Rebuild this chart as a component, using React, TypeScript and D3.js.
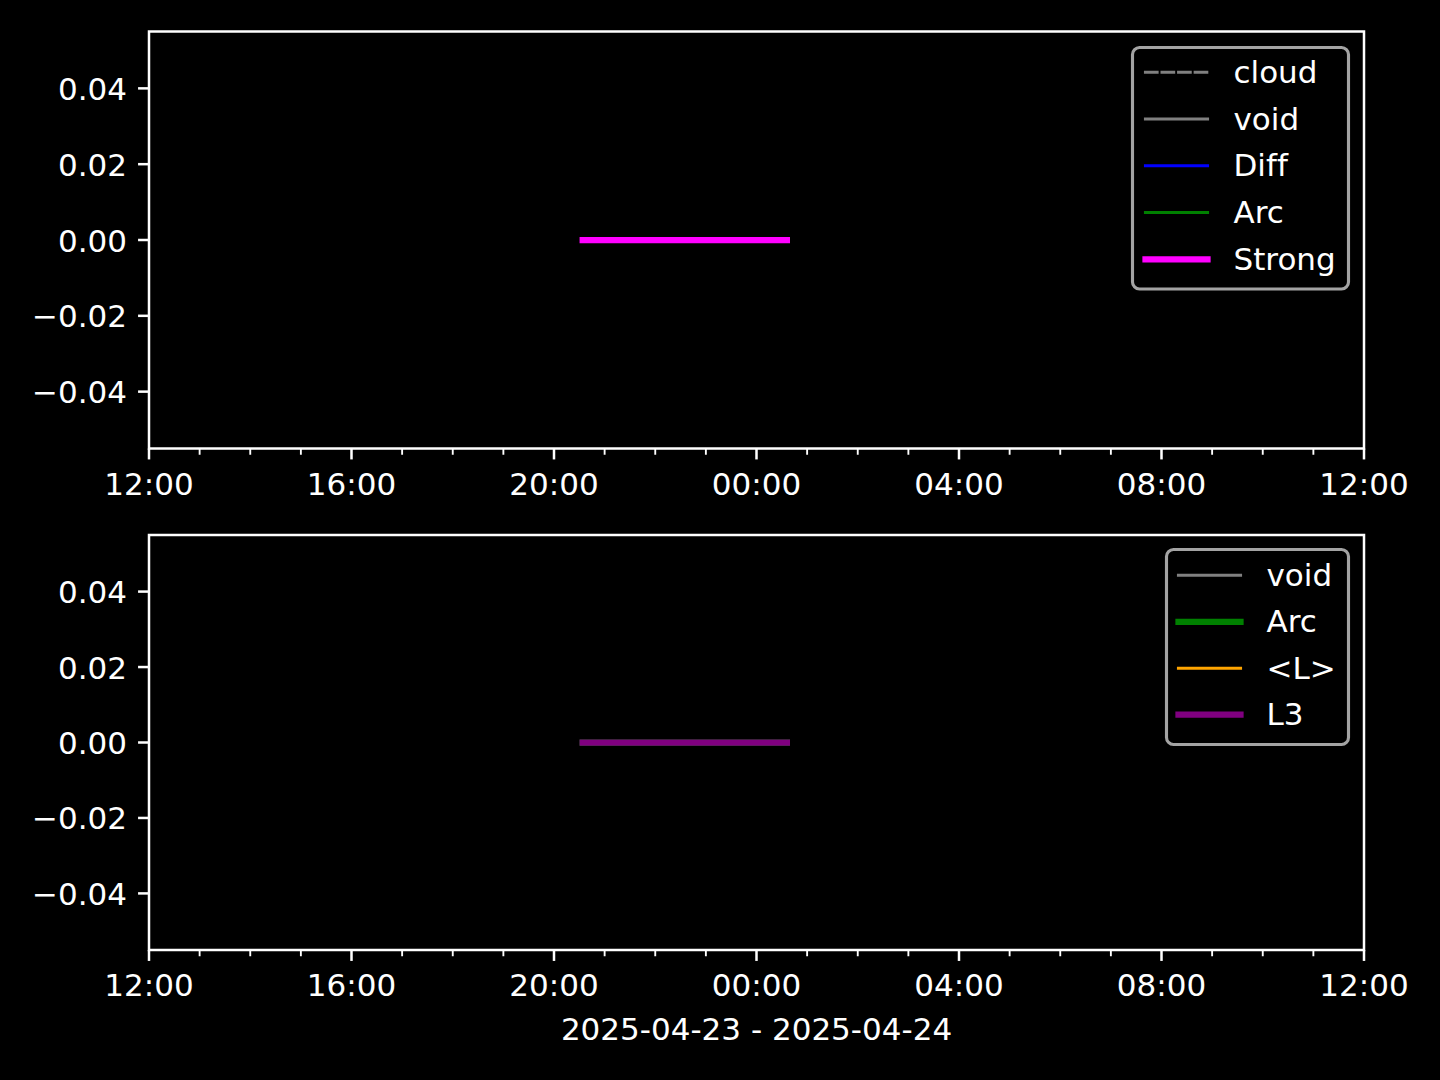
import React from 'react';
import * as d3 from 'd3';

// time window shown on both panels (UTC)
const xDomain = ['2025-04-23T12:00:00Z', '2025-04-24T12:00:00Z'];
const yDomain = [-0.055, 0.055];
const yTicks = [-0.04, -0.02, 0, 0.02, 0.04];
const xLabel = '2025-04-23 - 2025-04-24';

// sample times and values (all series are flat at zero here)
const times = ['2025-04-23T20:34:00Z', '2025-04-23T22:00:00Z', '2025-04-24T00:36:00Z'];
const cloudVals = [0, 0, 0];
const voidVals = [0, 0, 0];
const diffVals = [0, 0, 0];
const arcVals = [0, 0, 0];
const strongVals = [0, 0, 0];
const meanLVals = [0, 0, 0];
const l3Vals = [0, 0, 0];

type Series = { name: string; values: number[]; color: string; lw: number; dash?: boolean };

const topSeries: Series[] = [
  { name: 'cloud', values: cloudVals, color: '#808080', lw: 1, dash: true },
  { name: 'void', values: voidVals, color: '#808080', lw: 1 },
  { name: 'Diff', values: diffVals, color: '#0000ff', lw: 1 },
  { name: 'Arc', values: arcVals, color: '#008000', lw: 1 },
  { name: 'Strong', values: strongVals, color: '#ff00ff', lw: 2 },
];
const bottomSeries: Series[] = [
  { name: 'void', values: voidVals, color: '#808080', lw: 1 },
  { name: 'Arc', values: arcVals, color: '#008000', lw: 2 },
  { name: '<L>', values: meanLVals, color: '#ffa500', lw: 1 },
  { name: 'L3', values: l3Vals, color: '#800080', lw: 2 },
];

const W = 1440;
const H = 1080;
const PT = 3.125; // px per point
const FS = 31;
const FONT = '"DejaVu Sans", sans-serif';
const LEFT = 149;
const RIGHT = 1364;

const x = d3.scaleUtc().domain(xDomain.map(d => new Date(d))).range([LEFT, RIGHT]);
const majorTicks = x.ticks(d3.utcHour.every(4)!);
const minorTicks = x.ticks(d3.utcHour.every(1)!).filter(t => t.getUTCHours() % 4 !== 0);
const fmtX = d3.utcFormat('%H:%M');
const fmtY = d3.format('.2f');

type Legend = { x0: number; y0: number; w: number; h: number; handleX: number; textX: number; rowY: number; step: number };

const Panel: React.FC<{ top: number; bottom: number; series: Series[]; legend: Legend }> = ({ top, bottom, series, legend }) => {
  const y = d3.scaleLinear().domain(yDomain).range([bottom, top]);
  const line = d3.line<number>()
    .x((_, i) => x(new Date(times[i])))
    .y(d => y(d));
  return (
    <g>
      {series.map(s => (
        <path key={s.name} d={line(s.values) ?? ''} fill="none" stroke={s.color}
          strokeWidth={s.lw * PT} strokeLinecap="square"
          strokeDasharray={s.dash ? `${3.7 * PT} ${1.6 * PT}` : undefined} />
      ))}
      {/* spines */}
      <rect x={LEFT} y={top} width={RIGHT - LEFT} height={bottom - top} fill="none" stroke="#fff" strokeWidth={0.8 * PT} />
      {/* x ticks */}
      {majorTicks.map(t => (
        <g key={+t}>
          <line x1={x(t)} x2={x(t)} y1={bottom} y2={bottom + 3.5 * PT} stroke="#fff" strokeWidth={0.8 * PT} />
          <text x={x(t)} y={bottom + 46} fill="#fff" fontSize={FS} fontFamily={FONT} textAnchor="middle">{fmtX(t)}</text>
        </g>
      ))}
      {minorTicks.map(t => (
        <line key={+t} x1={x(t)} x2={x(t)} y1={bottom} y2={bottom + 2 * PT} stroke="#fff" strokeWidth={0.6 * PT} />
      ))}
      {/* y ticks */}
      {yTicks.map(v => (
        <g key={v}>
          <line x1={LEFT} x2={LEFT - 3.5 * PT} y1={y(v)} y2={y(v)} stroke="#fff" strokeWidth={0.8 * PT} />
          <text x={LEFT - 3.5 * PT - 11} y={y(v) + 11.5} fill="#fff" fontSize={FS} fontFamily={FONT} textAnchor="end">{fmtY(v)}</text>
        </g>
      ))}
      {/* legend */}
      <rect x={legend.x0} y={legend.y0} width={legend.w} height={legend.h} rx={7} ry={7}
        fill="#000" fillOpacity={0.8} stroke="#a3a3a3" strokeWidth={PT} />
      {series.map((s, i) => {
        const ly = legend.rowY + i * legend.step;
        return (
          <g key={'lg' + s.name}>
            <line x1={legend.handleX} x2={legend.handleX + 62} y1={ly} y2={ly} stroke={s.color}
              strokeWidth={s.lw * PT} strokeLinecap="square"
              strokeDasharray={s.dash ? `${3.7 * PT} ${1.6 * PT}` : undefined} />
            <text x={legend.textX} y={ly + 10.5} fill="#fff" fontSize={FS} fontFamily={FONT}>{s.name}</text>
          </g>
        );
      })}
    </g>
  );
};

export default function App() {
  return (
    <div style={{ position: 'fixed', left: 0, top: 0 }}>
      <svg width={W} height={H} style={{ display: 'block', background: '#000', fontVariantLigatures: 'none' }}>
        <rect width={W} height={H} fill="#000" />
        <Panel top={31.5} bottom={448.5} series={topSeries}
          legend={{ x0: 1132.5, y0: 47.5, w: 216, h: 241.5, handleX: 1145.5, textX: 1233.5, rowY: 72.3, step: 46.75 }} />
        <Panel top={535} bottom={950} series={bottomSeries}
          legend={{ x0: 1166.5, y0: 549.5, w: 182, h: 195, handleX: 1178.5, textX: 1266.5, rowY: 575.3, step: 46.45 }} />
        <text x={(LEFT + RIGHT) / 2} y={1040} fill="#fff" fontSize={FS} fontFamily={FONT} textAnchor="middle">{xLabel}</text>
      </svg>
    </div>
  );
}
